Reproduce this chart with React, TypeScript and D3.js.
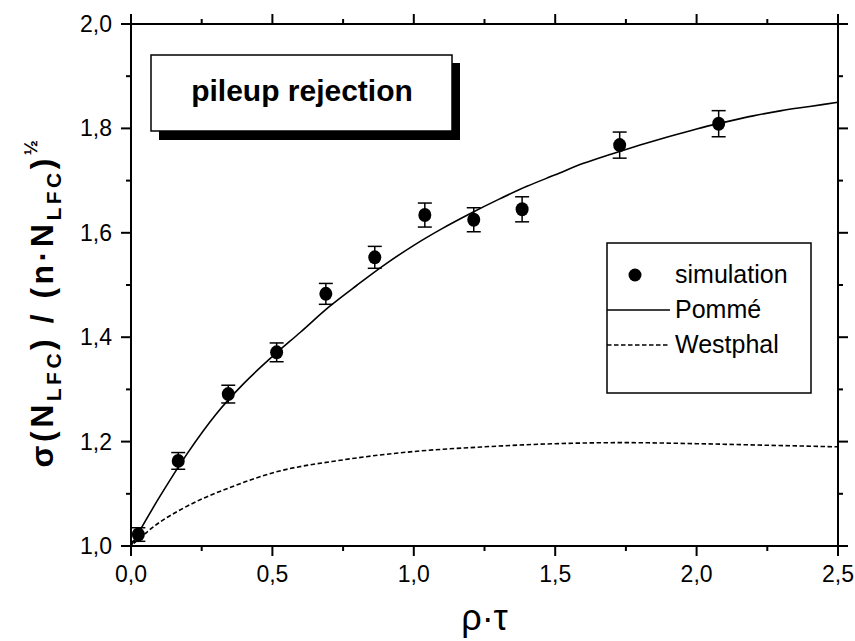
import * as d3 from 'd3'

const width = 855
const height = 641

const margin = { top: 24, right: 17, bottom: 95, left: 131 }

// simulated points with error bars
const simX = [0.026, 0.167, 0.344, 0.515, 0.689, 0.862, 1.039, 1.212, 1.383, 1.728, 2.078]
const simY = [1.022, 1.163, 1.291, 1.371, 1.483, 1.553, 1.634, 1.625, 1.645, 1.768, 1.809]
const simErr = [0.013, 0.016, 0.017, 0.018, 0.02, 0.021, 0.023, 0.023, 0.024, 0.025, 0.025]

// Pommé curve
const pommeX = [0, 0.1, 0.2, 0.3, 0.4, 0.5, 0.6, 0.7, 0.8, 0.9, 1.0, 1.1, 1.2, 1.3, 1.4, 1.5, 1.6, 1.7, 1.8, 1.9, 2.0, 2.1, 2.2, 2.3, 2.4, 2.5]
const pommeY = [1.0, 1.093, 1.178, 1.252, 1.312, 1.363, 1.41, 1.458, 1.5, 1.54, 1.576, 1.608, 1.637, 1.664, 1.689, 1.711, 1.733, 1.751, 1.768, 1.784, 1.799, 1.812, 1.824, 1.834, 1.842, 1.85]

// Westphal curve
const westX = [0.01, 0.1, 0.17, 0.25, 0.35, 0.5, 0.75, 1.0, 1.25, 1.5, 1.75, 2.0, 2.25, 2.5]
const westY = [1.005, 1.045, 1.068, 1.09, 1.112, 1.14, 1.165, 1.181, 1.19, 1.196, 1.198, 1.196, 1.193, 1.19]

const xTicks = [0, 0.5, 1.0, 1.5, 2.0, 2.5]
const xMinor = [0.25, 0.75, 1.25, 1.75, 2.25]
const yTicks = [1.0, 1.2, 1.4, 1.6, 1.8, 2.0]
const yMinor = [1.1, 1.3, 1.5, 1.7, 1.9]

const font = '"Liberation Sans", Arial, sans-serif'
const fmt = d3.formatLocale({ decimal: ',', thousands: '.', grouping: [3], currency: ['', ''] }).format('.1f')

function App() {
  const innerWidth = width - margin.left - margin.right
  const innerHeight = height - margin.top - margin.bottom
  const x0 = margin.left
  const x1 = margin.left + innerWidth
  const y0 = margin.top + innerHeight
  const y1 = margin.top

  const xScale = d3.scaleLinear().domain([0, 2.5]).range([x0, x1])
  const yScale = d3.scaleLinear().domain([1, 2]).range([y0, y1])

  const line = d3.line<[number, number]>()
    .x(d => xScale(d[0]))
    .y(d => yScale(d[1]))
    .curve(d3.curveMonotoneX)

  const pomme = line(pommeX.map((v, i) => [v, pommeY[i]]))
  const west = line(westX.map((v, i) => [v, westY[i]]))

  const major = 10
  const minor = 5

  return (
    <div style={{ position: 'absolute', left: 0, top: 0 }}>
      <svg width={width} height={height} style={{ display: 'block', background: '#fff' }}>
        {/* curves */}
        <path d={pomme ?? ''} fill="none" stroke="#000" strokeWidth={1.6} />
        <path d={west ?? ''} fill="none" stroke="#000" strokeWidth={1.6} strokeDasharray="4.5,2.5" />

        {/* simulation points */}
        {simX.map((v, i) => {
          const cx = xScale(v)
          const cy = yScale(simY[i])
          const top = yScale(simY[i] + simErr[i])
          const bot = yScale(simY[i] - simErr[i])
          return (
            <g key={i}>
              <line x1={cx} x2={cx} y1={top} y2={bot} stroke="#000" strokeWidth={1.5} />
              <line x1={cx - 7} x2={cx + 7} y1={top} y2={top} stroke="#000" strokeWidth={1.5} />
              <line x1={cx - 7} x2={cx + 7} y1={bot} y2={bot} stroke="#000" strokeWidth={1.5} />
              <ellipse cx={cx} cy={cy} rx={6.5} ry={7} fill="#000" />
            </g>
          )
        })}

        {/* frame */}
        <rect x={x0} y={y1} width={innerWidth} height={innerHeight} fill="none" stroke="#000" strokeWidth={2} />

        {/* x ticks bottom and top */}
        {xTicks.map(t => (
          <g key={'xt' + t}>
            <line x1={xScale(t)} x2={xScale(t)} y1={y0} y2={y0 + major} stroke="#000" strokeWidth={2} />
            <line x1={xScale(t)} x2={xScale(t)} y1={y1} y2={y1 - major} stroke="#000" strokeWidth={2} />
            <text x={xScale(t)} y={y0 + 36} textAnchor="middle" fontFamily={font} fontSize={23}>{fmt(t)}</text>
          </g>
        ))}
        {xMinor.map(t => (
          <g key={'xm' + t}>
            <line x1={xScale(t)} x2={xScale(t)} y1={y0} y2={y0 + minor} stroke="#000" strokeWidth={2} />
            <line x1={xScale(t)} x2={xScale(t)} y1={y1} y2={y1 - minor} stroke="#000" strokeWidth={2} />
          </g>
        ))}

        {/* y ticks left and right */}
        {yTicks.map(t => (
          <g key={'yt' + t}>
            <line x1={x0} x2={x0 - major} y1={yScale(t)} y2={yScale(t)} stroke="#000" strokeWidth={2} />
            <line x1={x1} x2={x1 + major} y1={yScale(t)} y2={yScale(t)} stroke="#000" strokeWidth={2} />
            <text x={x0 - 19} y={yScale(t)} dy="0.35em" textAnchor="end" fontFamily={font} fontSize={23}>{fmt(t)}</text>
          </g>
        ))}
        {yMinor.map(t => (
          <g key={'ym' + t}>
            <line x1={x0} x2={x0 - minor} y1={yScale(t)} y2={yScale(t)} stroke="#000" strokeWidth={2} />
            <line x1={x1} x2={x1 + minor} y1={yScale(t)} y2={yScale(t)} stroke="#000" strokeWidth={2} />
          </g>
        ))}

        {/* axis titles */}
        <text x={(x0 + x1) / 2} y={630} textAnchor="middle" fontFamily={font} fontSize={36}>ρ·τ</text>
        <text
          transform={`translate(53, 302) rotate(-90)`}
          textAnchor="middle"
          fontFamily={font}
          fontSize={32}
          fontWeight="bold"
          letterSpacing={3.5}
        >
          σ(N<tspan fontSize={21} dy={8}>LFC</tspan><tspan dy={-8}>) / (n·N</tspan><tspan fontSize={21} dy={8}>LFC</tspan><tspan dy={-8}>)</tspan><tspan fontSize={18} dy={-16}>½</tspan>
        </text>

        {/* title box */}
        <rect x={159} y={63} width={301} height={77} fill="#000" />
        <rect x={151} y={55} width={301} height={76} fill="#fff" stroke="#000" strokeWidth={1.5} />
        <text x={302} y={101} textAnchor="middle" fontFamily={font} fontSize={30} fontWeight="bold">pileup rejection</text>

        {/* legend */}
        <rect x={607} y={243} width={204} height={150} fill="#fff" stroke="#000" strokeWidth={1.5} />
        <circle cx={635} cy={275} r={6.5} fill="#000" />
        <text x={675} y={283} fontFamily={font} fontSize={25}>simulation</text>
        <line x1={607} x2={670} y1={310} y2={310} stroke="#000" strokeWidth={1.6} />
        <text x={675} y={318} fontFamily={font} fontSize={25}>Pommé</text>
        <line x1={607} x2={670} y1={345} y2={345} stroke="#000" strokeWidth={1.6} strokeDasharray="4.5,2.5" />
        <text x={675} y={353} fontFamily={font} fontSize={25}>Westphal</text>
      </svg>
    </div>
  )
}

export default App
